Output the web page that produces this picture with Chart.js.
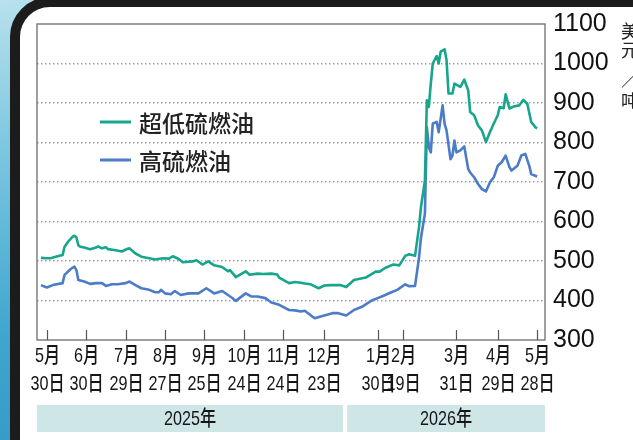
<!DOCTYPE html>
<html>
<head>
<meta charset="utf-8">
<script src="https://cdn.jsdelivr.net/npm/chart.js@4.4.1/dist/chart.umd.min.js"></script>
<style>
  html, body { margin: 0; padding: 0; }
  body {
    width: 633px; height: 440px; overflow: hidden; position: relative;
    background: linear-gradient(165deg, #b9e1ec 0%, #7cc6e0 25%, #3fa6cf 55%, #2a8dbd 100%);
  }
  #frame {
    position: absolute; left: 10px; top: -3px; width: 700px; height: 520px;
    border: 10px solid #1c1c1c; border-radius: 40px 0 0 0; background: #fff;
  }
  #c { position: absolute; left: 0; top: 0; }
</style>
</head>
<body>
<div id="frame"></div>
<canvas id="c" width="633" height="440"></canvas>
<script>
// ---- data (x = trading-day index from 2025-05-30) ----
const ulsX = [-3,0,2,4,8,9,11,13,14,15,16,17,19,22,25,26,28,30,31,35,38,41,42,45,48,52,55,59,62,64,67,69,74,76,79,82,85,89,92,93,96,101,103,107,110,114,117,118,123,126,129,131,134,138,141,144,146,149,152,156,162,167,169,172,176,179,182,184,187,189,190,192,193,194,195,196,198,199,200,202,203,204,206,207,210,212,214,215,217,219,221,223,225,227,229,230,232,233,235,237,240,242,244,246,247,248,249];
const ulsY = [508,507,507,510,515,536,550,561,564,560,540,536,534,530,534,537,532,535,530,527,524,531,532,519,511,507,504,507,506,512,505,497,499,502,491,499,489,485,474,477,459,474,465,468,467,468,466,458,444,447,445,443,441,431,438,439,439,439,434,452,458,473,473,483,491,489,513,517,513,585,636,703,907,890,949,1000,1019,1000,1030,1036,1008,924,924,949,941,959,932,877,869,843,830,801,826,848,869,890,887,922,886,891,894,908,898,852,846,839,836];
const hsX = [-3,0,3,8,9,12,14,15,16,19,22,25,28,30,33,36,40,42,45,48,52,55,57,58,60,63,65,68,72,77,81,85,89,94,96,101,104,107,111,114,118,123,126,129,131,136,140,145,148,152,156,160,165,168,171,175,178,182,184,187,189,190,192,193,194,195,196,198,199,201,202,203,205,206,207,208,210,212,214,215,217,219,221,223,225,227,229,231,233,235,236,239,241,243,245,246,248,249];
const hsY = [439,433,439,444,465,479,486,477,452,448,442,444,444,437,441,441,444,448,439,431,427,421,421,427,418,416,424,414,418,418,431,418,424,407,399,418,410,410,406,395,389,376,375,372,374,355,361,368,368,362,376,384,400,406,412,421,427,441,436,437,508,559,619,839,788,775,848,852,826,894,848,830,758,767,805,775,780,790,733,724,712,695,682,676,699,712,741,750,767,737,729,741,767,771,741,720,716,714];

const seriesNames = ['超低硫燃油', '高硫燃油'];
const tickIdx = [0,20,40,60,80,100,120,141,168,181,208,229,249];
const tickMonths = ['5月','6月','7月','8月','9月','10月','11月','12月','1月','2月','3月','4月','5月'];
const tickDays = ['30日','30日','29日','27日','25日','24日','24日','23日','30日','19日','31日','29日','28日'];
const yearLabels = ['2025年', '2026年'];
const yearSplit = 151.5;
const unitChars = ['美','元','／','吨'];

// ---- styles ----
const C_ULS = '#17a68c';
const C_HS = '#4c7cc7';
const LBL_FONT = "500 21px 'Liberation Sans','Noto Sans CJK SC',sans-serif";
const SQUEEZE = 0.77;

function narrowText(ctx, txt, x, y) {
  ctx.save();
  ctx.translate(x, y);
  ctx.scale(SQUEEZE, 1);
  ctx.fillText(txt, 0, 0);
  ctx.restore();
}

const decor = {
  id: 'decor',
  afterDraw(chart) {
    const { ctx, chartArea: a, scales: { x } } = chart;
    ctx.save();
    // plot box
    ctx.strokeStyle = '#777';
    ctx.lineWidth = 1.4;
    ctx.strokeRect(a.left, a.top, a.right - a.left, a.bottom - a.top);
    // inner tick marks + labels
    ctx.fillStyle = '#151515';
    ctx.font = LBL_FONT;
    ctx.textAlign = 'center';
    ctx.textBaseline = 'middle';
    tickIdx.forEach((v, i) => {
      const px = Math.round(x.getPixelForValue(v)) + 0.5;
      ctx.strokeStyle = '#555';
      ctx.lineWidth = 1.2;
      ctx.beginPath(); ctx.moveTo(px, a.bottom); ctx.lineTo(px, a.bottom - 10); ctx.stroke();
      narrowText(ctx, tickMonths[i], px, a.bottom + 16);
      narrowText(ctx, tickDays[i], px, a.bottom + 44);
    });
    // year bands
    const sp = x.getPixelForValue(yearSplit);
    const bands = [[a.left, sp - 2], [sp + 2, a.right]];
    const bTop = a.bottom + 65, bH = 27;
    bands.forEach((b, i) => {
      ctx.fillStyle = '#cfe6e7';
      ctx.fillRect(b[0], bTop, b[1] - b[0], bH);
      ctx.fillStyle = '#151515';
      narrowText(ctx, yearLabels[i], (b[0] + b[1]) / 2, bTop + bH / 2 + 1);
    });
    // legend
    const colors = [C_ULS, C_HS];
    const lx = a.left + 63, ly = a.top + 98;
    seriesNames.forEach((n, i) => {
      const y = ly + i * 38;
      ctx.strokeStyle = colors[i];
      ctx.lineWidth = 3;
      ctx.beginPath(); ctx.moveTo(lx, y); ctx.lineTo(lx + 31, y); ctx.stroke();
      ctx.fillStyle = '#222';
      ctx.font = '500 23px "Noto Sans CJK SC", sans-serif';
      ctx.textAlign = 'left';
      ctx.textBaseline = 'middle';
      ctx.fillText(n, lx + 39, y + 1);
    });
    // unit label (vertical, partly clipped)
    ctx.fillStyle = '#222';
    ctx.font = '18px "Noto Sans CJK SC", sans-serif';
    ctx.textAlign = 'center';
    ctx.textBaseline = 'middle';
    const uy = [31, 50, 79, 101];
    unitChars.forEach((ch, i) => ctx.fillText(ch, 630, uy[i]));
    ctx.restore();
  }
};

new Chart(document.getElementById('c'), {
  type: 'line',
  data: {
    datasets: [
      { label: seriesNames[0], data: ulsX.map((v, i) => ({ x: v, y: ulsY[i] })), borderColor: C_ULS, borderWidth: 2.6, pointRadius: 0, tension: 0, borderJoinStyle: 'round' },
      { label: seriesNames[1], data: hsX.map((v, i) => ({ x: v, y: hsY[i] })), borderColor: C_HS, borderWidth: 2.6, pointRadius: 0, tension: 0, borderJoinStyle: 'round' }
    ]
  },
  options: {
    responsive: false,
    animation: false,
    layout: { padding: { left: 37, top: 24, right: 0, bottom: 0 } },
    plugins: { legend: { display: false }, tooltip: { enabled: false } },
    scales: {
      x: {
        type: 'linear', min: -5, max: 253,
        afterBuildTicks: s => { s.ticks = tickIdx.map(v => ({ value: v })); },
        afterFit: s => { s.height = 100; },
        grid: { display: false, drawTicks: false },
        border: { display: false },
        ticks: { display: false }
      },
      y: {
        position: 'right', min: 300, max: 1100,
        afterFit: s => { s.width = 88; },
        grid: {
          drawTicks: false, lineWidth: 1.5,
          color: c => (c.tick && (c.tick.value === 300 || c.tick.value === 1100)) ? 'rgba(0,0,0,0)' : '#a0a0a0'
        },
        border: { display: false, dash: [1.5, 2.5] },
        ticks: {
          stepSize: 100, padding: 8, color: '#111',
          font: { family: "'Liberation Sans', Arial, sans-serif", size: 25 },
          callback: v => String(v)
        }
      }
    }
  },
  plugins: [decor]
});
</script>
</body>
</html>
